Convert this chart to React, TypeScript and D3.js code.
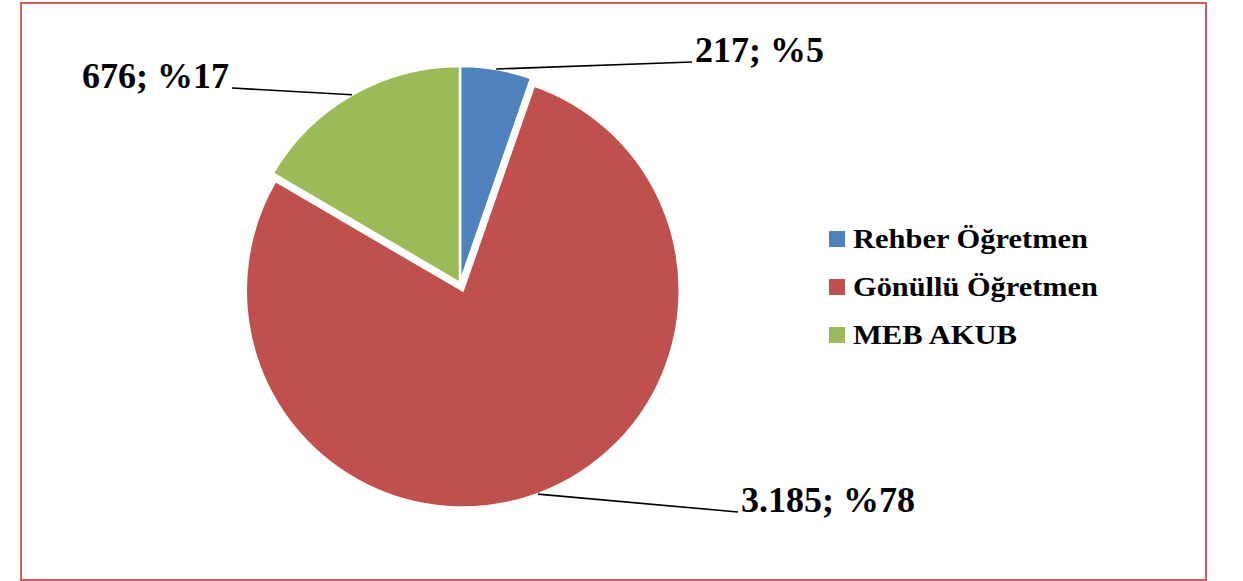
import React from "react";
import * as d3 from "d3";

const categories = ["Rehber Öğretmen", "Gönüllü Öğretmen", "MEB AKUB"];
const values = [217, 3185, 676];
const labels = ["217; %5", "3.185; %78", "676; %17"];
const colors = ["#4F81BD", "#C0504D", "#9BBB59"];
const explode = [0, 8, 0];
const labelPos: [number, number, string][] = [
  [695, 62, "start"],
  [741, 512, "start"],
  [229, 88, "end"],
];
const legendWidths = [235, 245, 164];

export default function App() {
  const W = 1243, H = 581;
  const cx = 460, cy = 283, r = 217;
  const pie = d3.pie<number>().sort(null).value((d) => d)(values);
  const arc = d3.arc<d3.PieArcDatum<number>>().innerRadius(0).outerRadius(r);
  const font = "'Liberation Serif', 'Times New Roman', serif";
  return (
    <svg width={W} height={H} style={{ position: "absolute", left: 0, top: 0 }}>
      <rect x={21} y={3} width={1185} height={577} fill="#fff" stroke="#D0605E" strokeWidth={2} />
      <g transform={`translate(${cx},${cy})`}>
        {pie.map((p, i) => {
          const mid = (p.startAngle + p.endAngle) / 2;
          const dx = Math.sin(mid) * explode[i];
          const dy = -Math.cos(mid) * explode[i];
          return (
            <path key={i} d={arc(p) || ""} transform={`translate(${dx},${dy})`}
              fill={colors[i]} stroke="#fff" strokeWidth={2.5} strokeLinejoin="miter" />
          );
        })}
      </g>
      {pie.map((p, i) => {
        const mid = (p.startAngle + p.endAngle) / 2;
        const ox = cx + Math.sin(mid) * explode[i];
        const oy = cy - Math.cos(mid) * explode[i];
        const sx = ox + Math.sin(mid) * r;
        const sy = oy - Math.cos(mid) * r;
        const [lx, ly, anchor] = labelPos[i];
        const ex = anchor === "start" ? lx - 3 : lx + 3;
        return (
          <g key={i}>
            <line x1={sx} y1={sy} x2={ex} y2={ly} stroke="#000" strokeWidth={1.6} />
            <text x={lx} y={ly} textAnchor={anchor} fontFamily={font} fontWeight="bold" fontSize={36} fill="#000">
              {labels[i]}
            </text>
          </g>
        );
      })}
      {categories.map((c, i) => (
        <g key={c} transform={`translate(829,${231 + i * 48})`}>
          <rect x={0} y={0} width={16} height={16} fill={colors[i]} />
          <text x={24} y={16.5} fontFamily={font} fontWeight="bold" fontSize={28} fill="#000"
            textLength={legendWidths[i]} lengthAdjust="spacingAndGlyphs">
            {c}
          </text>
        </g>
      ))}
    </svg>
  );
}
